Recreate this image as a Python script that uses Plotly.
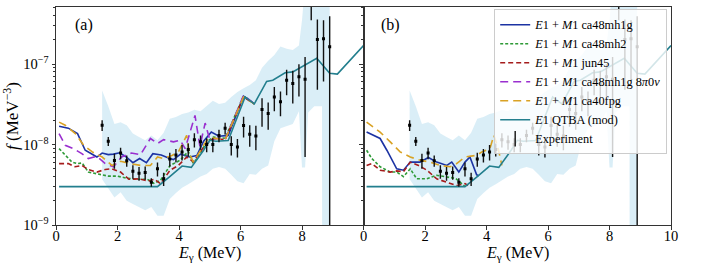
import plotly.graph_objects as go

# ---------------- data ----------------
# Experiment (Oslo method) points, shared by both panels
E_exp = [1.5, 1.7, 1.9, 2.1, 2.3, 2.5, 2.7, 2.9, 3.1, 3.3, 3.5, 3.7, 3.9, 4.1, 4.3,
         4.5, 4.7, 4.9, 5.1, 5.3, 5.5, 5.7, 5.9, 6.1, 6.3, 6.5, 6.7, 6.9, 7.1, 7.3,
         7.5, 7.7, 7.9, 8.1, 8.3, 8.5, 8.7, 8.9]
f_exp = [1.74e-8, 1.1e-8, 6.35e-9, 7.85e-9, 6.3e-9, 4.65e-9, 4.4e-9, 4.5e-9, 3.4e-9, 5.0e-9,
         3.76e-9, 6.6e-9, 7.4e-9, 8.1e-9, 8.7e-9, 1.15e-8, 1.08e-8, 1.0e-8, 1.0e-8, 1.3e-8,
         1.6e-8, 1.0e-8, 9.3e-9, 1.72e-8, 1.34e-8, 1.28e-8, 2.72e-8, 2.43e-8, 3.9e-8, 3.4e-8,
         6.3e-8, 5.75e-8, 6.95e-8, 6.5e-8, 7.0e-7, 2.03e-7, 2.06e-7, 1.64e-7]
df_exp = [2.7e-9, 1.4e-9, 1.35e-9, 1.3e-9, 1.0e-9, 0.9e-9, 0.85e-9, 0.85e-9, 0.42e-9, 1.0e-9,
          0.7e-9, 1.3e-9, 1.4e-9, 1.75e-9, 1.6e-9, 2.3e-9, 2.2e-9, 2.0e-9, 2.0e-9, 2.3e-9,
          2.7e-9, 2.7e-9, 2.4e-9, 5.0e-9, 4.0e-9, 4.3e-9, 1.05e-8, 0.9e-8, 1.3e-8, 1.15e-8,
          2.2e-8, 2.5e-8, 3.0e-8, 5.8e-8, 3.5e-7, 1.55e-7, 1.45e-7, 2.3e-7]

# uncertainty band of the normalisation
E_band = [1.5, 1.7, 1.9, 2.1, 2.3, 2.5, 2.7, 2.9, 3.1, 3.3, 3.5, 3.7, 3.9, 4.1, 4.3,
          4.5, 4.7, 4.9, 5.1, 5.3, 5.5, 5.7, 5.9, 6.1, 6.3, 6.5, 6.7, 6.9, 7.1, 7.3,
          7.5, 7.7, 7.9, 8.0, 8.1, 8.2, 8.4, 8.6, 8.65, 8.66, 8.9]
f_band_hi = [4.7e-8, 3.0e-8, 1.8e-8, 1.9e-8, 1.74e-8, 1.37e-8, 1.24e-8, 1.13e-8, 1.3e-8, 1.13e-8,
             1.4e-8, 2.1e-8, 2.2e-8, 2.4e-8, 2.5e-8, 2.7e-8, 2.6e-8, 3.0e-8, 3.5e-8, 3.2e-8,
             3.3e-8, 3.9e-8, 4.5e-8, 5.0e-8, 5.5e-8, 6.3e-8, 9.0e-8, 1.1e-7, 1.3e-7, 1.65e-7,
             1.55e-7, 1.5e-7, 1.7e-7, 3.5e-7, 1e-6, 1e-6, 1e-6, 1e-6, 1e-6, 1e-6, 1e-6]
f_band_lo = [3.7e-9, 2.8e-9, 2.2e-9, 2.55e-9, 2.0e-9, 1.83e-9, 1.67e-9, 1.52e-9, 1.67e-9, 1.3e-9,
             1.3e-9, 2.1e-9, 2.5e-9, 2.9e-9, 3.2e-9, 3.6e-9, 4.0e-9, 4.3e-9, 5.0e-9, 5.25e-9,
             5.0e-9, 4.2e-9, 3.5e-9, 3.3e-9, 4.3e-9, 4.2e-9, 5.0e-9, 5.5e-9, 1.1e-8, 1.6e-8,
             1.7e-8, 1.8e-8, 2.6e-8, 5.2e-9, 5.2e-9, 2.5e-8, 3.0e-8, 3.0e-8, 3.0e-8, 1e-12, 1e-12]

# E1 QTBA (mod), both panels
E_qtba = [0.1, 3.3, 3.7, 4.1, 4.4, 4.8, 5.0, 5.2, 5.6, 6.0, 6.15, 6.45, 6.85, 7.05, 7.45,
          7.7, 8.48, 8.9, 9.15, 10.0]
f_qtba = [3.0e-9, 3.0e-9, 4.0e-9, 5.4e-9, 5.2e-9, 8.5e-9, 1.13e-8, 1.1e-8, 1.12e-8, 2.7e-8,
          3.9e-8, 3.2e-8, 6.1e-8, 6.3e-8, 7.8e-8, 8.0e-8, 1.18e-7, 7.7e-8, 7.5e-8, 1.7e-7]

# panel (a) E1+M1 models
E_a_mh1g = [0.1, 0.4, 0.7, 0.95, 1.15, 1.33, 1.5, 1.7, 1.87, 2.07, 2.29, 2.5, 2.72, 2.94,
            3.15, 3.42, 3.7, 3.82, 4.05, 4.35, 4.58, 4.8, 5.05, 5.3, 5.6, 6.1, 6.45]
f_a_mh1g = [1.69e-8, 1.6e-8, 1.37e-8, 8.5e-9, 7.7e-9, 7.0e-9, 7.85e-9, 7.5e-9, 7.6e-9, 7.9e-9,
            7.0e-9, 5.95e-9, 6.7e-9, 5.95e-9, 7.7e-9, 7.4e-9, 6.7e-9, 6.5e-9, 7.6e-9, 7.0e-9,
            7.3e-9, 1.1e-8, 1.43e-8, 1.27e-8, 1.3e-8, 4.0e-8, 3.2e-8]
E_a_mh2 = [0.1, 0.3, 0.52, 0.69, 0.85, 1.05, 1.38, 1.7, 2.0, 2.32, 2.65, 2.97, 3.18, 3.4,
           3.71, 4.04, 4.3, 4.45, 4.6, 4.9, 5.12, 5.5, 6.1, 6.45]
f_a_mh2 = [8.9e-9, 7.35e-9, 6.05e-9, 5.8e-9, 5.9e-9, 4.55e-9, 4.25e-9, 4.05e-9, 4.05e-9, 3.8e-9,
           3.7e-9, 3.7e-9, 3.3e-9, 3.6e-9, 5.5e-9, 6.4e-9, 8.2e-9, 6.0e-9, 6.7e-9, 1.08e-8,
           1.24e-8, 1.2e-8, 4.0e-8, 3.2e-8]
E_a_jun45 = [0.1, 0.4, 0.62, 0.84, 1.05, 1.33, 1.6, 1.82, 2.1, 2.37, 2.7, 3.0, 3.2, 3.4,
             3.71, 3.98, 4.25, 4.47, 4.8, 5.1, 5.5, 6.1, 6.45]
f_a_jun45 = [5.8e-9, 5.8e-9, 5.3e-9, 5.5e-9, 4.9e-9, 4.55e-9, 4.9e-9, 5.0e-9, 4.55e-9, 3.7e-9,
             3.75e-9, 3.5e-9, 3.7e-9, 3.27e-9, 4.8e-9, 5.5e-9, 7.0e-9, 6.1e-9, 9.3e-9, 1.19e-8,
             1.15e-8, 3.9e-8, 3.2e-8]
E_a_8pi = [0.1, 0.3, 0.57, 0.84, 1.05, 1.33, 1.6, 1.87, 2.13, 2.45, 2.75, 3.07, 3.3, 3.5,
           3.82, 4.04, 4.2, 4.36, 4.52, 4.68, 4.85, 5.0, 5.3, 5.5, 6.1, 6.45]
f_a_8pi = [1.37e-8, 9.8e-9, 8.9e-9, 7.7e-9, 6.7e-9, 7.15e-9, 5.8e-9, 5.3e-9, 7.0e-9, 7.85e-9,
           7.5e-9, 1.19e-8, 1.03e-8, 1.15e-8, 1.08e-8, 1.13e-8, 8.9e-9, 1.43e-8, 2.3e-8, 9.5e-9,
           1.85e-8, 1.15e-8, 1.2e-8, 1.15e-8, 4.1e-8, 3.2e-8]
E_a_fpg = [0.1, 0.3, 0.63, 0.9, 1.18, 1.5, 1.82, 2.1, 2.43, 2.75, 3.07, 3.3, 3.5, 3.77, 3.98,
           4.25, 4.34, 4.47, 4.9, 5.1, 5.5, 6.1, 6.45]
f_a_fpg = [1.9e-8, 1.74e-8, 1.37e-8, 9.8e-9, 8.1e-9, 7.0e-9, 5.5e-9, 6.2e-9, 5.8e-9, 5.5e-9,
           5.5e-9, 7.0e-9, 6.7e-9, 7.3e-9, 8.1e-9, 1.3e-8, 7.7e-9, 6.05e-9, 1.13e-8, 1.2e-8,
           1.15e-8, 3.9e-8, 3.2e-8]

# panel (b) E1+M1 models
E_b_mh1g = [0.1, 0.33, 0.54, 0.76, 1.08, 1.3, 1.52, 1.84, 2.11, 2.38, 2.71, 2.87, 3.1, 3.3,
            3.46, 3.68, 3.75]
f_b_mh1g = [1.43e-8, 1.3e-8, 1.19e-8, 8.5e-9, 5.0e-9, 4.8e-9, 6.05e-9, 6.05e-9, 6.9e-9, 6.05e-9,
            5.5e-9, 6.05e-9, 4.55e-9, 6.05e-9, 7.0e-9, 4.2e-9, 4.1e-9]
E_b_mh2 = [0.1, 0.27, 0.54, 0.87, 1.08, 1.3, 1.52, 1.73, 2.06, 2.38, 2.71, 3.0, 3.3]
f_b_mh2 = [8.5e-9, 6.7e-9, 5.3e-9, 4.55e-9, 4.55e-9, 4.0e-9, 5.0e-9, 3.75e-9, 3.75e-9, 4.15e-9,
           3.95e-9, 3.8e-9, 3.0e-9]
E_b_jun45 = [0.1, 0.27, 0.54, 0.87, 1.08, 1.3, 1.52, 1.79, 2.06, 2.38, 2.71, 3.03, 3.3, 3.4]
f_b_jun45 = [5.5e-9, 5.8e-9, 4.8e-9, 4.55e-9, 4.7e-9, 4.6e-9, 6.05e-9, 5.5e-9, 4.8e-9, 3.75e-9,
             3.4e-9, 3.1e-9, 3.27e-9, 3.1e-9]
E_b_fpg = [0.1, 0.33, 0.54, 0.87, 1.19, 1.52, 1.84, 2.17, 2.5, 2.82, 3.03, 3.3, 3.68, 3.85,
           4.11, 4.24, 4.37, 4.5]
f_b_fpg = [1.9e-8, 1.65e-8, 1.43e-8, 1.08e-8, 8.1e-9, 7.0e-9, 6.4e-9, 6.05e-9, 5.5e-9, 5.3e-9,
           5.8e-9, 7.0e-9, 7.35e-9, 8.1e-9, 8.9e-9, 1.3e-8, 9.3e-9, 5.5e-9]

names = ["<i>E</i>1 + <i>M</i>1 ca48mh1g", "<i>E</i>1 + <i>M</i>1 ca48mh2",
         "<i>E</i>1 + <i>M</i>1 jun45", "<i>E</i>1 + <i>M</i>1 ca48mh1g 8<i>π</i>0<i>ν</i>",
         "<i>E</i>1 + <i>M</i>1 ca40fpg", "<i>E</i>1 QTBA (mod)", "Experiment"]
x_ticks_a = [0, 2, 4, 6, 8]
x_ticks_b = [0, 2, 4, 6, 8, 10]
y_ticks = [1e-9, 1e-8, 1e-7]
y_ticktext = ["10<sup>−9</sup>", "10<sup>−8</sup>", "10<sup>−7</sup>"]

# ---------------- styles ----------------
C_BLUE, C_GREEN, C_RED = "#1c33a3", "#2e9a37", "#a51c1c"
C_PURPLE, C_GOLD, C_TEAL = "#9a2fcf", "#d9a224", "#237f8e"
BAND = "rgba(150,205,232,0.35)"
FONT = "Liberation Serif"

fig = go.Figure()

for xa, ya in [("x", "y"), ("x2", "y2")]:
    fig.add_trace(go.Scatter(x=E_band, y=f_band_hi, mode="lines", line=dict(width=0),
                             showlegend=False, hoverinfo="skip", xaxis=xa, yaxis=ya))
    fig.add_trace(go.Scatter(x=E_band, y=f_band_lo, mode="lines", line=dict(width=0),
                             fill="tonexty", fillcolor=BAND, showlegend=False,
                             hoverinfo="skip", xaxis=xa, yaxis=ya))

def curve(x, y, color, dash, name, xa, ya, show, rank):
    fig.add_trace(go.Scatter(x=x, y=y, mode="lines", name=name,
                             line=dict(color=color, width=1.6, dash=dash),
                             showlegend=show, legendrank=rank, xaxis=xa, yaxis=ya))

DASH_G, DASH_R, DASH_L = "3px,2px", "5px,3px", "8px,5px"

curve(E_a_mh1g, f_a_mh1g, C_BLUE, "solid", names[0], "x", "y", True, 1)
curve(E_a_mh2, f_a_mh2, C_GREEN, DASH_G, names[1], "x", "y", True, 2)
curve(E_a_jun45, f_a_jun45, C_RED, DASH_R, names[2], "x", "y", True, 3)
curve(E_a_8pi, f_a_8pi, C_PURPLE, DASH_L, names[3], "x", "y", True, 4)
curve(E_a_fpg, f_a_fpg, C_GOLD, DASH_L, names[4], "x", "y", True, 5)

curve(E_b_mh1g, f_b_mh1g, C_BLUE, "solid", names[0], "x2", "y2", False, 1)
curve(E_b_mh2, f_b_mh2, C_GREEN, DASH_G, names[1], "x2", "y2", False, 2)
curve(E_b_jun45, f_b_jun45, C_RED, DASH_R, names[2], "x2", "y2", False, 3)
curve(E_b_fpg, f_b_fpg, C_GOLD, DASH_L, names[4], "x2", "y2", False, 5)

curve(E_qtba, f_qtba, C_TEAL, "solid", names[5], "x", "y", True, 6)
curve(E_qtba, f_qtba, C_TEAL, "solid", names[5], "x2", "y2", False, 6)

for xa, ya in [("x", "y"), ("x2", "y2")]:
    fig.add_trace(go.Scatter(x=E_exp, y=f_exp, mode="markers", name=names[6],
                             marker=dict(symbol="square", size=3, color="black"),
                             error_y=dict(type="data", array=df_exp, color="#111111",
                                          thickness=1.4, width=0),
                             showlegend=False, xaxis=xa, yaxis=ya))
# legend entry for the experiment (error-bar glyph)
fig.add_trace(go.Scatter(x=[None], y=[None], mode="markers", name=names[6],
                         marker=dict(symbol="line-ns", size=11,
                                     line=dict(color="#111111", width=1.4)),
                         showlegend=True, legendrank=7, xaxis="x2", yaxis="y2"))

minor_vals = [m * 10.0 ** k for k in (-9, -8, -7) for m in range(2, 10)]

axis_common = dict(showline=True, mirror=True, linecolor="#333333", linewidth=1,
                   ticks="outside", ticklen=3.5, tickcolor="#333333", showgrid=False,
                   zeroline=False, automargin=False,
                   tickfont=dict(family=FONT, size=14.5, color="black"))

fig.update_layout(
    width=706, height=265,
    margin=dict(l=56, r=35, t=7, b=40, autoexpand=False),
    paper_bgcolor="white", plot_bgcolor="white",
    font=dict(family=FONT, size=14, color="black"),
    xaxis=dict(domain=[0, 0.5], range=[0, 10], tickmode="array", tickvals=x_ticks_a,
               ticklabelstandoff=-6, **axis_common),
    xaxis2=dict(domain=[0.5, 1], range=[0, 10], tickmode="array", tickvals=x_ticks_b,
                ticklabelstandoff=-6, **axis_common),
    yaxis=dict(type="log", range=[-9, -6.29], tickmode="array", tickvals=y_ticks,
               ticktext=y_ticktext,
               minor=dict(tickmode="array", tickvals=minor_vals, ticks="outside", ticklen=2,
                          tickcolor="#333333", showgrid=False),
               title=dict(text="<i>f</i> (MeV<sup>−3</sup>)", font=dict(family=FONT, size=17),
                          standoff=2),
               **axis_common),
    yaxis2=dict(type="log", range=[-9, -6.29], anchor="x2", matches="y", tickmode="array",
                tickvals=y_ticks, showticklabels=False,
                minor=dict(tickmode="array", tickvals=minor_vals, ticks="outside", ticklen=2,
                           tickcolor="#333333", showgrid=False),
                **axis_common),
    legend=dict(x=0.7125, y=0.99, xanchor="left", yanchor="top", traceorder="normal",
                bgcolor="rgba(255,255,255,0.8)", bordercolor="#cccccc", borderwidth=1,
                font=dict(family=FONT, size=12.3), tracegroupgap=0, itemwidth=30),
    annotations=[
        dict(text="(a)", x=0.055, y=0.917, xref="x domain", yref="y domain",
             xanchor="left", yanchor="middle", showarrow=False,
             font=dict(family=FONT, size=16)),
        dict(text="(b)", x=0.052, y=0.917, xref="x2 domain", yref="y2 domain",
             xanchor="left", yanchor="middle", showarrow=False,
             font=dict(family=FONT, size=16)),
        dict(text="<i>E</i><sub>γ</sub> (MeV)", x=0.5, y=-0.18, xref="x domain",
             yref="y domain", xanchor="center", yanchor="bottom", showarrow=False,
             borderpad=0, font=dict(family=FONT, size=16)),
        dict(text="<i>E</i><sub>γ</sub> (MeV)", x=0.5, y=-0.18, xref="x2 domain",
             yref="y2 domain", xanchor="center", yanchor="bottom", showarrow=False,
             borderpad=0, font=dict(family=FONT, size=16)),
    ],
)

fig.write_html("out.html", config={"displayModeBar": False},
               post_script="document.body.style.margin='0px';")
